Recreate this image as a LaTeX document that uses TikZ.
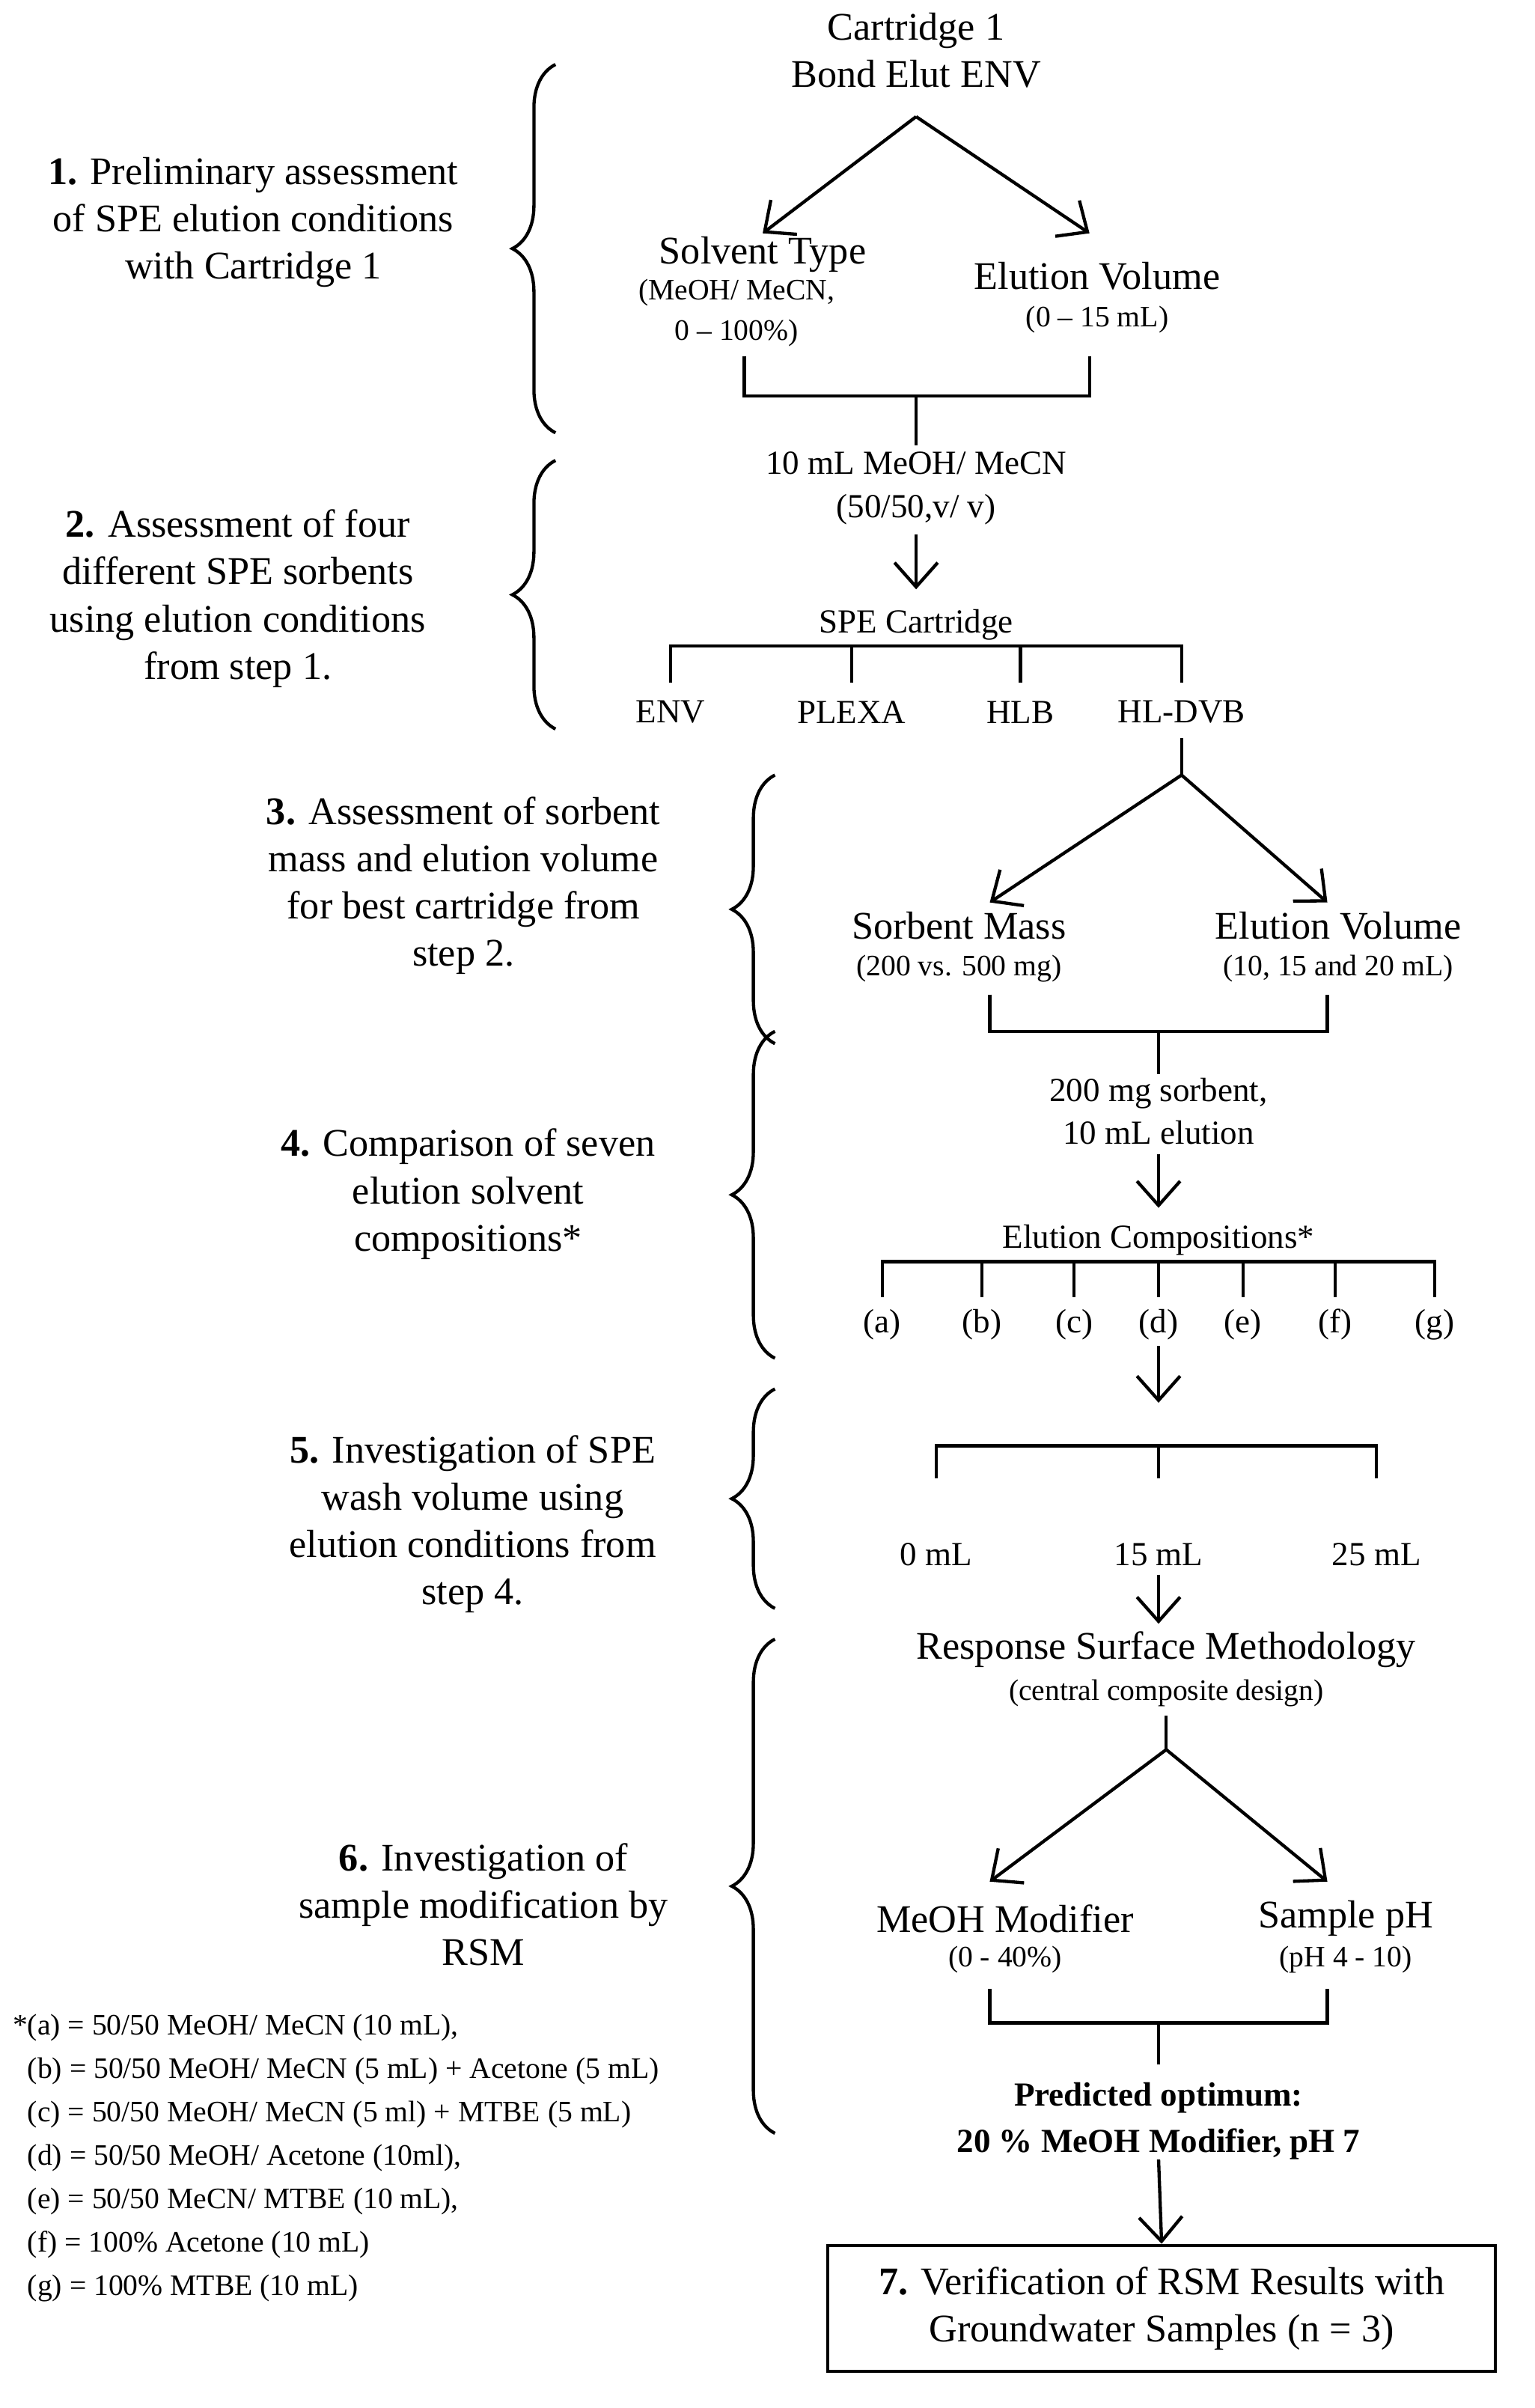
\documentclass[tikz,border=0pt]{standalone}
\usepackage{fontspec}
\setmainfont{Liberation Serif}
\usetikzlibrary{decorations.pathreplacing,arrows.meta}
\begin{document}
\begin{tikzpicture}[x=0.02cm,y=-0.02cm,
  big/.style={font=\fontsize{14.5}{17.5}\selectfont,align=center,inner sep=0},
  small/.style={font=\fontsize{11}{15}\selectfont,align=center,inner sep=0},
  mid/.style={font=\fontsize{12.5}{16}\selectfont,align=center,inner sep=0},
  arr/.style={line width=1.2pt,-{Straight Barb[length=9pt,width=16pt]}},
  ln/.style={line width=1.2pt},
  br/.style={line width=1.2pt,decorate,decoration={brace,amplitude=16pt}}]
\useasboundingbox (0,0) rectangle (1000,1569);
% step 1
\node[big] (c1) at (597,33) {Cartridge 1\\Bond Elut ENV};
\coordinate (a1) at (597,76);
\node[big] (st) at (497,166) {Solvent Type};
\node[small] (st2) at (480,204) {(MeOH/ MeCN,\\0 -- 100\%)};
\node[big] (ev) at (715,180) {Elution Volume};
\node[small] (ev2) at (715,208) {(0 -- 15 mL)};
\draw[arr] (a1) -- (497,152);
\draw[arr] (a1) -- (710,152);
\draw[ln] (485,232) -- (485,258) -- (710,258) -- (710,232);
\node[mid] (m1) at (597,318) {10 mL MeOH/ MeCN\\(50/50,v/ v)};
\draw[ln] (597,258) -- (597,290);
\coordinate (s1) at (597,348);
\draw[arr] (s1) -- (597,384);
\node[mid] (spe) at (597,407) {SPE Cartridge};
\draw[ln] (437,445) -- (437,421) -- (770,421) -- (770,445);
\draw[ln] (555,421) -- (555,445) (665,421) -- (665,445);
\node[mid] (env) at (437,464) {ENV};
\node[mid] (plx) at (555,464) {PLEXA};
\node[mid] (hlb) at (665,464) {HLB};
\node[mid] (hdvb) at (770,464) {HL-DVB};
% step 3
\coordinate (a3) at (770,505);
\coordinate (b3) at (770,481);
\draw[ln] (b3) -- (a3);
\draw[arr] (a3) -- (645,588);
\draw[arr] (a3) -- (865,588);
\node[big] (sm) at (625,603) {Sorbent Mass};
\node[small] (sm2) at (625,631) {(200 vs. 500 mg)};
\node[big] (ev3) at (872,603) {Elution Volume};
\node[small] (ev4) at (872,631) {(10, 15 and 20 mL)};
\draw[ln] (645,648) -- (645,672) -- (865,672) -- (865,648);
\node[mid] (m3) at (755,724) {200 mg sorbent,\\10 mL elution};
\draw[ln] (755,672) -- (755,700);
\coordinate (s3) at (755,752);
\draw[arr] (s3) -- (755,787);
\node[mid] (ec) at (755,808) {Elution Compositions*};
\draw[ln] (575,845) -- (575,822) -- (935,822) -- (935,845);
\foreach \x in {640,700,755,810,870} \draw[ln] (\x,822) -- (\x,845);
\foreach \x/\l in {575/a,640/b,700/c,755/d,810/e,870/f,935/g}
  \node[mid] (l\l) at (\x,863) {(\l)};
\coordinate (s4) at (755,877);
\draw[arr] (s4) -- (755,914);
% step 5
\draw[ln] (610,963) -- (610,942) -- (897,942) -- (897,963);
\draw[ln] (755,942) -- (755,963);
\node[mid] (w0) at (610,1013) {0 mL};
\node[mid] (w15) at (755,1013) {15 mL};
\node[mid] (w25) at (897,1013) {25 mL};
\coordinate (s5) at (755,1026);
\draw[arr] (s5) -- (755,1058);
\node[big] (rsm) at (760,1075) {Response Surface Methodology};
\node[small] (rsm2) at (760,1103) {(central composite design)};
\coordinate (a6) at (760,1140);
\coordinate (b6) at (760,1118);
\draw[ln] (b6) -- (a6);
\draw[arr] (a6) -- (645,1226);
\draw[arr] (a6) -- (865,1226);
\node[big] (mm) at (655,1250) {MeOH Modifier};
\node[small] (mm2) at (655,1277) {(0 - 40\%)};
\node[big] (ph) at (877,1250) {Sample pH};
\node[small] (ph2) at (877,1277) {(pH 4 - 10)};
\draw[ln] (645,1296) -- (645,1318) -- (865,1318) -- (865,1296);
\node[mid,font=\fontsize{12.5}{17}\selectfont\bfseries] (po) at (755,1382) {Predicted optimum:\\20 \% MeOH Modifier, pH 7};
\draw[ln] (755,1318) -- (755,1345);
\node[big,draw,line width=1.2pt,minimum width=435*0.02cm,minimum height=82*0.02cm] (v7) at (757,1504) {\textbf{7.} Verification of RSM Results with\\Groundwater Samples (n = 3)};
\coordinate (s6) at (755,1407);
\draw[arr] (s6) -- (v7.north);
% braces and step texts
\draw[br] (362,282) -- (362,42);
\node[big] (t1) at (165,145) {\textbf{1.} Preliminary assessment\\of SPE elution conditions\\with Cartridge 1};
\draw[br] (362,475) -- (362,300);
\node[big] (t2) at (155,390) {\textbf{2.} Assessment of four\\different SPE sorbents\\using elution conditions\\from step 1.};
\draw[br] (505,680) -- (505,505);
\node[big] (t3) at (302,577) {\textbf{3.} Assessment of sorbent\\mass and elution volume\\for best cartridge from\\step 2.};
\draw[br] (505,885) -- (505,672);
\node[big] (t4) at (305,778) {\textbf{4.} Comparison of seven\\elution solvent\\compositions*};
\draw[br] (505,1048) -- (505,905);
\node[big] (t5) at (308,993) {\textbf{5.} Investigation of SPE\\wash volume using\\elution conditions from\\step 4.};
\draw[br] (505,1390) -- (505,1068);
\node[big] (t6) at (315,1241) {\textbf{6.} Investigation of\\sample modification by\\RSM};
\node[small,align=left,anchor=north west,font=\fontsize{11}{16.1}\selectfont] (fn) at (8,1312) {*(a) = 50/50 MeOH/ MeCN (10 mL),\\
\ \ (b) = 50/50 MeOH/ MeCN (5 mL) + Acetone (5 mL)\\
\ \ (c) = 50/50 MeOH/ MeCN (5 ml) + MTBE (5 mL)\\
\ \ (d) = 50/50 MeOH/ Acetone (10ml),\\
\ \ (e) = 50/50 MeCN/ MTBE (10 mL),\\
\ \ (f) = 100\% Acetone (10 mL)\\
\ \ (g) = 100\% MTBE (10 mL)};
\end{tikzpicture}
\end{document}
